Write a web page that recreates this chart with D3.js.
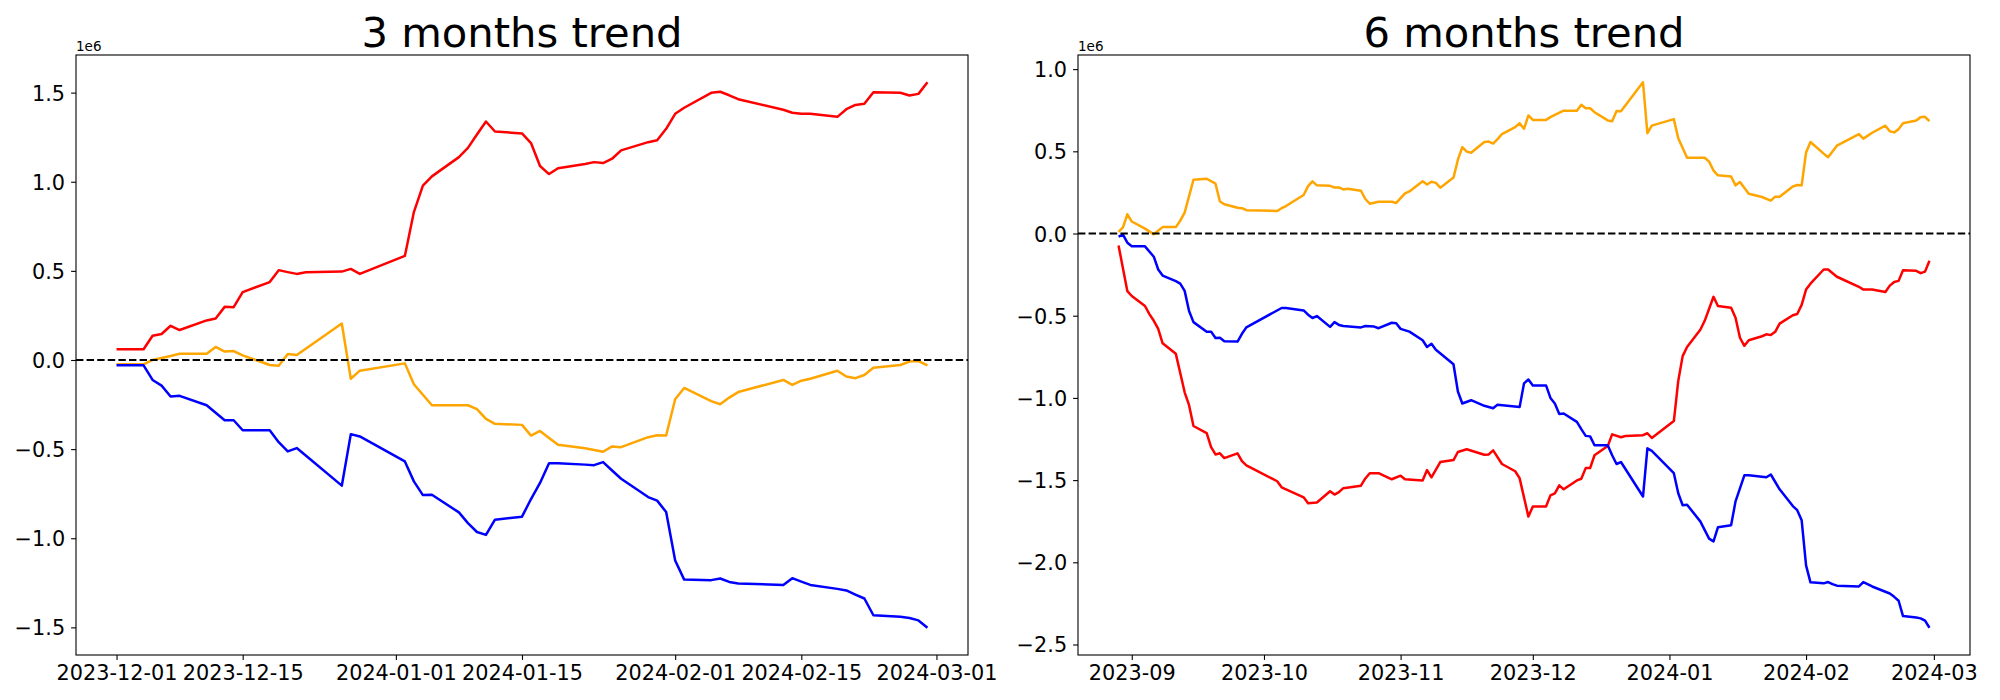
<!DOCTYPE html>
<html>
<head>
<meta charset="utf-8">
<script src="https://cdn.jsdelivr.net/npm/d3@7"></script>
<style>
  body { margin: 0; background: #fff; }
  svg { display: block; }
  text { font-family: "DejaVu Sans", sans-serif; fill: #000; }
</style>
</head>
<body>
<svg id="chart" width="2000" height="700"></svg>
<script>
// all values are in units of 1e6 (matplotlib offset text)

// ---- 3 months trend ----
const threeDates = [
  "2023-12-01", "2023-12-04", "2023-12-05", "2023-12-06", "2023-12-07", "2023-12-08",
  "2023-12-11", "2023-12-12", "2023-12-13", "2023-12-14", "2023-12-15", "2023-12-18",
  "2023-12-19", "2023-12-20", "2023-12-21", "2023-12-22", "2023-12-26", "2023-12-27",
  "2023-12-28", "2024-01-02", "2024-01-03", "2024-01-04", "2024-01-05", "2024-01-08",
  "2024-01-09", "2024-01-10", "2024-01-11", "2024-01-12", "2024-01-15", "2024-01-16",
  "2024-01-17", "2024-01-18", "2024-01-19", "2024-01-22", "2024-01-23", "2024-01-24",
  "2024-01-25", "2024-01-26", "2024-01-29", "2024-01-30", "2024-01-31", "2024-02-01",
  "2024-02-02", "2024-02-05", "2024-02-06", "2024-02-07", "2024-02-08", "2024-02-13",
  "2024-02-14", "2024-02-15", "2024-02-16", "2024-02-19", "2024-02-20", "2024-02-21",
  "2024-02-22", "2024-02-23", "2024-02-26", "2024-02-27", "2024-02-28", "2024-02-29"
];
const threeRed = [
  0.06, 0.06, 0.136, 0.146, 0.192, 0.168, 0.222, 0.233, 0.298, 0.296,
  0.381, 0.437, 0.504, 0.493, 0.483, 0.492, 0.496, 0.511, 0.483, 0.584,
  0.83, 0.978, 1.03, 1.138, 1.19, 1.265, 1.338, 1.282, 1.271, 1.217,
  1.088, 1.043, 1.076, 1.10, 1.110, 1.105, 1.129, 1.176, 1.222, 1.233,
  1.297, 1.381, 1.415, 1.499, 1.505, 1.485, 1.463, 1.404, 1.387, 1.381,
  1.381, 1.364, 1.407, 1.431, 1.437, 1.502, 1.499, 1.484, 1.493, 1.558
];
const threeOrange = [
  -0.024, -0.024, 0.0, 0.011, 0.022, 0.035, 0.035, 0.073, 0.047, 0.05,
  0.026, -0.028, -0.032, 0.034, 0.028, 0.063, 0.205, -0.105, -0.06, -0.019,
  -0.136, -0.195, -0.254, -0.254, -0.254, -0.276, -0.33, -0.358, -0.364, -0.424,
  -0.398, -0.437, -0.476, -0.495, -0.505, -0.515, -0.485, -0.489, -0.433, -0.422,
  -0.424, -0.22, -0.157, -0.231, -0.248, -0.211, -0.18, -0.112, -0.14, -0.116,
  -0.105, -0.06, -0.093, -0.102, -0.084, -0.043, -0.028, -0.009, -0.006, -0.03
];
const threeBlue = [
  -0.03, -0.03, -0.112, -0.144, -0.205, -0.201, -0.254, -0.296, -0.338, -0.338,
  -0.394, -0.394, -0.461, -0.513, -0.494, -0.536, -0.705, -0.416, -0.429, -0.569,
  -0.681, -0.758, -0.756, -0.855, -0.915, -0.965, -0.981, -0.896, -0.879, -0.78,
  -0.69, -0.579, -0.579, -0.587, -0.59, -0.573, -0.62, -0.666, -0.769, -0.789,
  -0.853, -1.125, -1.232, -1.235, -1.226, -1.245, -1.254, -1.262, -1.224, -1.243,
  -1.262, -1.284, -1.293, -1.316, -1.338, -1.432, -1.441, -1.447, -1.461, -1.502
];
const threeXTicks = ["2023-12-01", "2023-12-15", "2024-01-01", "2024-01-15", "2024-02-01", "2024-02-15", "2024-03-01"];
const threeYTicks = [-1.5, -1.0, -0.5, 0.0, 0.5, 1.0, 1.5];

// ---- 6 months trend ----
const sixRed = [
  ["2023-08-29", -0.073], ["2023-08-31", -0.351], ["2023-09-01", -0.38], ["2023-09-04", -0.441],
  ["2023-09-05", -0.49], ["2023-09-06", -0.531], ["2023-09-07", -0.58], ["2023-09-08", -0.668],
  ["2023-09-11", -0.732], ["2023-09-12", -0.849], ["2023-09-13", -0.966], ["2023-09-14", -1.044],
  ["2023-09-15", -1.171], ["2023-09-18", -1.214], ["2023-09-19", -1.3], ["2023-09-20", -1.344],
  ["2023-09-21", -1.337], ["2023-09-22", -1.366], ["2023-09-25", -1.337], ["2023-09-26", -1.385],
  ["2023-09-27", -1.41], ["2023-10-04", -1.507], ["2023-10-05", -1.544], ["2023-10-10", -1.605],
  ["2023-10-11", -1.641], ["2023-10-13", -1.636], ["2023-10-16", -1.568], ["2023-10-17", -1.588],
  ["2023-10-18", -1.573], ["2023-10-19", -1.549], ["2023-10-23", -1.534], ["2023-10-24", -1.49],
  ["2023-10-25", -1.458], ["2023-10-27", -1.458], ["2023-10-30", -1.495], ["2023-11-01", -1.473],
  ["2023-11-02", -1.495], ["2023-11-06", -1.502], ["2023-11-07", -1.439], ["2023-11-08", -1.483],
  ["2023-11-10", -1.39], ["2023-11-13", -1.378], ["2023-11-14", -1.329], ["2023-11-16", -1.312],
  ["2023-11-20", -1.346], ["2023-11-21", -1.344], ["2023-11-22", -1.319], ["2023-11-24", -1.402],
  ["2023-11-27", -1.446], ["2023-11-28", -1.488], ["2023-11-30", -1.722], ["2023-12-01", -1.661],
  ["2023-12-04", -1.661], ["2023-12-05", -1.593], ["2023-12-06", -1.581], ["2023-12-07", -1.532],
  ["2023-12-08", -1.556], ["2023-12-11", -1.502], ["2023-12-12", -1.492], ["2023-12-13", -1.427],
  ["2023-12-14", -1.427], ["2023-12-15", -1.349], ["2023-12-18", -1.293], ["2023-12-19", -1.222],
  ["2023-12-21", -1.239], ["2023-12-22", -1.232], ["2023-12-26", -1.227], ["2023-12-27", -1.215],
  ["2023-12-28", -1.244], ["2024-01-02", -1.141], ["2024-01-03", -0.897], ["2024-01-04", -0.746],
  ["2024-01-05", -0.69], ["2024-01-08", -0.585], ["2024-01-09", -0.531], ["2024-01-11", -0.385],
  ["2024-01-12", -0.441], ["2024-01-15", -0.451], ["2024-01-16", -0.512], ["2024-01-17", -0.634],
  ["2024-01-18", -0.683], ["2024-01-19", -0.649], ["2024-01-22", -0.625], ["2024-01-23", -0.613],
  ["2024-01-24", -0.618], ["2024-01-25", -0.598], ["2024-01-26", -0.548], ["2024-01-29", -0.497],
  ["2024-01-30", -0.49], ["2024-01-31", -0.434], ["2024-02-01", -0.341], ["2024-02-02", -0.305],
  ["2024-02-05", -0.219], ["2024-02-06", -0.219], ["2024-02-08", -0.263], ["2024-02-13", -0.324],
  ["2024-02-14", -0.341], ["2024-02-16", -0.341], ["2024-02-19", -0.356], ["2024-02-20", -0.317],
  ["2024-02-21", -0.295], ["2024-02-22", -0.288], ["2024-02-23", -0.224], ["2024-02-26", -0.227],
  ["2024-02-27", -0.241], ["2024-02-28", -0.232], ["2024-02-29", -0.166]
];
const sixOrange = [
  ["2023-08-29", 0.01], ["2023-08-30", 0.037], ["2023-08-31", 0.117], ["2023-09-01", 0.073],
  ["2023-09-04", 0.03], ["2023-09-06", -0.005], ["2023-09-08", 0.039], ["2023-09-11", 0.039],
  ["2023-09-12", 0.078], ["2023-09-13", 0.127], ["2023-09-15", 0.327], ["2023-09-18", 0.333],
  ["2023-09-20", 0.303], ["2023-09-21", 0.195], ["2023-09-22", 0.178], ["2023-09-25", 0.157],
  ["2023-09-26", 0.154], ["2023-09-27", 0.142], ["2023-10-04", 0.137], ["2023-10-05", 0.154],
  ["2023-10-06", 0.167], ["2023-10-10", 0.234], ["2023-10-11", 0.288], ["2023-10-12", 0.317],
  ["2023-10-13", 0.293], ["2023-10-16", 0.29], ["2023-10-17", 0.28], ["2023-10-18", 0.28],
  ["2023-10-19", 0.268], ["2023-10-20", 0.272], ["2023-10-23", 0.26], ["2023-10-24", 0.21],
  ["2023-10-25", 0.181], ["2023-10-27", 0.193], ["2023-10-30", 0.193], ["2023-10-31", 0.186],
  ["2023-11-02", 0.244], ["2023-11-03", 0.256], ["2023-11-06", 0.318], ["2023-11-07", 0.298],
  ["2023-11-08", 0.315], ["2023-11-09", 0.308], ["2023-11-10", 0.279], ["2023-11-13", 0.34],
  ["2023-11-14", 0.449], ["2023-11-15", 0.525], ["2023-11-16", 0.498], ["2023-11-17", 0.491],
  ["2023-11-20", 0.557], ["2023-11-21", 0.559], ["2023-11-22", 0.547], ["2023-11-23", 0.574],
  ["2023-11-24", 0.605], ["2023-11-27", 0.647], ["2023-11-28", 0.671], ["2023-11-29", 0.637],
  ["2023-11-30", 0.718], ["2023-12-01", 0.691], ["2023-12-04", 0.691], ["2023-12-05", 0.708],
  ["2023-12-06", 0.722], ["2023-12-08", 0.747], ["2023-12-11", 0.747], ["2023-12-12", 0.783],
  ["2023-12-13", 0.762], ["2023-12-14", 0.762], ["2023-12-15", 0.738], ["2023-12-18", 0.688],
  ["2023-12-19", 0.683], ["2023-12-20", 0.745], ["2023-12-21", 0.743], ["2023-12-26", 0.92],
  ["2023-12-27", 0.61], ["2023-12-28", 0.656], ["2024-01-02", 0.696], ["2024-01-03", 0.579],
  ["2024-01-05", 0.461], ["2024-01-09", 0.461], ["2024-01-10", 0.437], ["2024-01-11", 0.383],
  ["2024-01-12", 0.354], ["2024-01-15", 0.347], ["2024-01-16", 0.293], ["2024-01-17", 0.313],
  ["2024-01-19", 0.242], ["2024-01-22", 0.222], ["2024-01-24", 0.2], ["2024-01-25", 0.224],
  ["2024-01-26", 0.224], ["2024-01-29", 0.286], ["2024-01-30", 0.295], ["2024-01-31", 0.293],
  ["2024-02-01", 0.493], ["2024-02-02", 0.557], ["2024-02-05", 0.486], ["2024-02-06", 0.464],
  ["2024-02-08", 0.534], ["2024-02-13", 0.605], ["2024-02-14", 0.577], ["2024-02-16", 0.613],
  ["2024-02-19", 0.656], ["2024-02-20", 0.622], ["2024-02-21", 0.615], ["2024-02-22", 0.635],
  ["2024-02-23", 0.671], ["2024-02-26", 0.688], ["2024-02-27", 0.708], ["2024-02-28", 0.71],
  ["2024-02-29", 0.683]
];
const sixBlue = [
  ["2023-08-29", -0.019], ["2023-08-30", -0.007], ["2023-08-31", -0.056], ["2023-09-01", -0.078],
  ["2023-09-04", -0.078], ["2023-09-06", -0.141], ["2023-09-07", -0.219], ["2023-09-08", -0.256],
  ["2023-09-11", -0.29], ["2023-09-12", -0.305], ["2023-09-13", -0.349], ["2023-09-14", -0.471],
  ["2023-09-15", -0.539], ["2023-09-18", -0.597], ["2023-09-19", -0.597], ["2023-09-20", -0.636],
  ["2023-09-21", -0.634], ["2023-09-22", -0.655], ["2023-09-25", -0.657], ["2023-09-26", -0.61],
  ["2023-09-27", -0.571], ["2023-10-05", -0.453], ["2023-10-06", -0.453], ["2023-10-10", -0.468],
  ["2023-10-11", -0.494], ["2023-10-12", -0.514], ["2023-10-13", -0.502], ["2023-10-16", -0.568],
  ["2023-10-17", -0.539], ["2023-10-18", -0.556], ["2023-10-19", -0.563], ["2023-10-23", -0.571],
  ["2023-10-24", -0.563], ["2023-10-26", -0.566], ["2023-10-27", -0.576], ["2023-10-30", -0.543],
  ["2023-10-31", -0.546], ["2023-11-01", -0.58], ["2023-11-03", -0.597], ["2023-11-06", -0.649],
  ["2023-11-07", -0.69], ["2023-11-08", -0.671], ["2023-11-09", -0.707], ["2023-11-13", -0.795],
  ["2023-11-14", -0.961], ["2023-11-15", -1.034], ["2023-11-17", -1.014], ["2023-11-20", -1.048],
  ["2023-11-22", -1.063], ["2023-11-23", -1.041], ["2023-11-28", -1.056], ["2023-11-29", -0.912],
  ["2023-11-30", -0.888], ["2023-12-01", -0.924], ["2023-12-04", -0.924], ["2023-12-05", -1.0],
  ["2023-12-06", -1.034], ["2023-12-07", -1.098], ["2023-12-08", -1.095], ["2023-12-11", -1.146],
  ["2023-12-12", -1.19], ["2023-12-13", -1.231], ["2023-12-14", -1.234], ["2023-12-15", -1.288],
  ["2023-12-18", -1.288], ["2023-12-19", -1.349], ["2023-12-20", -1.402], ["2023-12-21", -1.39],
  ["2023-12-26", -1.6], ["2023-12-27", -1.307], ["2023-12-28", -1.322], ["2024-01-02", -1.458],
  ["2024-01-03", -1.58], ["2024-01-04", -1.653], ["2024-01-05", -1.65], ["2024-01-08", -1.751],
  ["2024-01-10", -1.856], ["2024-01-11", -1.873], ["2024-01-12", -1.787], ["2024-01-15", -1.774],
  ["2024-01-16", -1.629], ["2024-01-18", -1.471], ["2024-01-19", -1.471], ["2024-01-23", -1.483],
  ["2024-01-24", -1.466], ["2024-01-26", -1.556], ["2024-01-29", -1.658], ["2024-01-30", -1.683],
  ["2024-01-31", -1.744], ["2024-02-01", -2.019], ["2024-02-02", -2.122], ["2024-02-05", -2.128],
  ["2024-02-06", -2.12], ["2024-02-07", -2.133], ["2024-02-08", -2.142], ["2024-02-13", -2.147],
  ["2024-02-14", -2.12], ["2024-02-16", -2.147], ["2024-02-20", -2.19], ["2024-02-21", -2.21],
  ["2024-02-22", -2.234], ["2024-02-23", -2.327], ["2024-02-26", -2.336], ["2024-02-27", -2.341],
  ["2024-02-28", -2.355], ["2024-02-29", -2.398]
];
const sixXTicks = ["2023-09-01", "2023-10-01", "2023-11-01", "2023-12-01", "2024-01-01", "2024-02-01", "2024-03-01"];
const sixYTicks = [-2.5, -2.0, -1.5, -1.0, -0.5, 0.0, 0.5, 1.0];

const parse = d3.timeParse("%Y-%m-%d");
const svg = d3.select("#chart");

const TICK_FONT = 20.8;   // 15pt
const TICK_LEN = 4.9;

function pad5(ext) {
  // matplotlib default 5% margins
  const span = ext[1] - ext[0];
  return [ext[0] - span * 0.05, ext[1] + span * 0.05];
}

function drawPanel(opt) {
  const { left, top, width, height } = opt;
  const g = svg.append("g").attr("transform", `translate(${left},${top})`);

  const allPts = opt.series.flatMap(s => s.points);
  const tExt = d3.extent(allPts, p => p[0].getTime());
  const vExt = d3.extent(allPts, p => p[1]);

  const x = d3.scaleTime().domain(pad5(tExt).map(t => new Date(t))).range([0, width]);
  const y = d3.scaleLinear().domain(pad5(vExt)).range([height, 0]);

  const line = d3.line().x(p => x(p[0])).y(p => y(p[1]));

  opt.series.forEach(s => {
    g.append("path")
      .datum(s.points)
      .attr("fill", "none")
      .attr("stroke", s.color)
      .attr("stroke-width", 2.5)
      .attr("stroke-linejoin", "round")
      .attr("d", line);
  });

  // zero line
  g.append("line")
    .attr("x1", 0).attr("x2", width)
    .attr("y1", y(0)).attr("y2", y(0))
    .attr("stroke", "#000")
    .attr("stroke-width", 2)
    .attr("stroke-dasharray", "7.4,3.2");

  // frame
  g.append("rect")
    .attr("width", width).attr("height", height)
    .attr("fill", "none").attr("stroke", "#000").attr("stroke-width", 1.1);

  const xAxis = d3.axisBottom(x)
    .tickValues(opt.xTicks.map(parse))
    .tickFormat(d3.timeFormat(opt.xFormat))
    .tickSize(TICK_LEN).tickPadding(5.8);
  const gx = g.append("g").attr("transform", `translate(0,${height})`).call(xAxis);

  const yAxis = d3.axisLeft(y)
    .tickValues(opt.yTicks)
    .tickFormat(d3.format(".1f"))
    .tickSize(TICK_LEN).tickPadding(6);
  const gy = g.append("g").call(yAxis);

  [gx, gy].forEach(a => {
    a.select(".domain").remove();
    a.selectAll(".tick line").attr("stroke", "#000").attr("stroke-width", 1.1);
    a.selectAll(".tick text")
      .attr("fill", "#000")
      .style("font-family", '"DejaVu Sans", sans-serif')
      .style("font-size", TICK_FONT + "px");
  });
  gy.selectAll(".tick text").attr("dy", "0.36em");

  // offset text
  g.append("text")
    .attr("x", 0).attr("y", -4)
    .style("font-size", "13.5px")
    .text("1e6");

  // title
  g.append("text")
    .attr("x", width / 2).attr("y", -8.3)
    .attr("text-anchor", "middle")
    .style("font-size", "41.7px")
    .text(opt.title);
}

const toPts = (dates, vals) => dates.map((d, i) => [parse(d), vals[i]]);
const pairPts = arr => arr.map(p => [parse(p[0]), p[1]]);

drawPanel({
  left: 76, top: 55, width: 892, height: 600,
  title: "3 months trend",
  xTicks: threeXTicks, xFormat: "%Y-%m-%d", yTicks: threeYTicks,
  series: [
    { color: "red", points: toPts(threeDates, threeRed) },
    { color: "orange", points: toPts(threeDates, threeOrange) },
    { color: "blue", points: toPts(threeDates, threeBlue) }
  ]
});

drawPanel({
  left: 1078, top: 55, width: 892, height: 600,
  title: "6 months trend",
  xTicks: sixXTicks, xFormat: "%Y-%m", yTicks: sixYTicks,
  series: [
    { color: "red", points: pairPts(sixRed) },
    { color: "orange", points: pairPts(sixOrange) },
    { color: "blue", points: pairPts(sixBlue) }
  ]
});
</script>
</body>
</html>
